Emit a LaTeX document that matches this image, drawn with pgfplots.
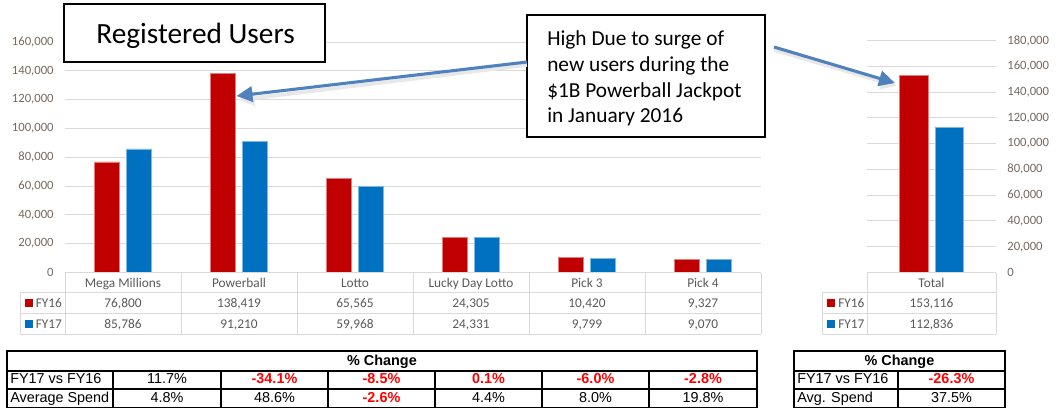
\documentclass[border=0pt]{standalone}
\usepackage{pgfplots}
\pgfplotsset{compat=1.18}
\usepackage{fontspec}
\setmainfont{Carlito}
\newfontfamily\arialf{Liberation Sans}
\usetikzlibrary{arrows.meta}
\definecolor{cred}{HTML}{C00000}
\definecolor{cblue}{HTML}{0070C0}
\definecolor{gridgray}{HTML}{D9D9D9}
\definecolor{txtgray}{HTML}{595959}
\definecolor{tickc}{RGB}{120,105,95}
\definecolor{arrowc}{RGB}{79,129,189}
\definecolor{pred}{HTML}{FF0000}
\begin{document}
\begin{tikzpicture}
\path[use as bounding box] (0,0) rectangle (792.75pt,-306pt);
% ---------- left chart ----------
\begin{axis}[at={(48.75pt,-204.375pt)}, anchor=south west, scale only axis,
  width=522pt, height=172.875pt, xmin=-0.5, xmax=5.5, ymin=0, ymax=160000,
  ytick={0,20000,...,160000}, xtick=\empty, ymajorgrids,
  grid style={gridgray, line width=0.75pt}, axis line style={draw=none},
  major tick length=0pt, scaled y ticks=false,
  yticklabel style={font=\fontsize{9.5}{11}\selectfont, text=tickc,
    /pgf/number format/fixed, /pgf/number format/1000 sep={,},
    /pgf/number format/assume math mode=true, xshift=-5pt},
  ybar, bar width=18.75pt, clip=false]
\addplot[fill=cred, draw=cred!50!white, line width=0.4pt, bar shift=-12pt] coordinates {(0,76800) (1,138419) (2,65565) (3,24305) (4,10420) (5,9327)};
\addplot[fill=cblue, draw=cblue!50!white, line width=0.4pt, bar shift=12pt] coordinates {(0,85786) (1,91210) (2,59968) (3,24331) (4,9799) (5,9070)};
\end{axis}
% ---------- right chart ----------
\begin{axis}[at={(650.25pt,-204.375pt)}, anchor=south west, scale only axis,
  width=96.75pt, height=174pt, xmin=-0.5, xmax=0.5, ymin=0, ymax=180000,
  ytick={0,20000,...,180000}, xtick=\empty, ymajorgrids, yticklabel pos=right,
  grid style={gridgray, line width=0.75pt}, axis line style={draw=none},
  major tick length=0pt, scaled y ticks=false,
  yticklabel style={font=\fontsize{9.5}{11}\selectfont, text=tickc,
    /pgf/number format/fixed, /pgf/number format/1000 sep={,},
    /pgf/number format/assume math mode=true, xshift=5pt},
  ybar, bar width=21.4pt, clip=false]
\addplot[fill=cred, draw=cred!50!white, line width=0.4pt, bar shift=-13.3pt] coordinates {(0,153116)};
\addplot[fill=cblue, draw=cblue!50!white, line width=0.4pt, bar shift=13.3pt] coordinates {(0,112836)};
\end{axis}
\begin{scope}[x=0.75pt,y=-0.75pt]
% ---------- data tables under the charts ----------
\begin{scope}[gridgray, line width=0.75pt]
\draw (65,272.5) -- (761,272.5);
\foreach \yy in {292.5,313.5,334} \draw (20,\yy) -- (761,\yy);
\draw (20,292.5) -- (20,334);
\foreach \xx in {65,181,297,413,529,645,761} \draw (\xx,272.5) -- (\xx,334);
\draw (867,272.5) -- (996,272.5);
\foreach \yy in {292.5,313.5,334} \draw (822,\yy) -- (996,\yy);
\draw (822,292.5) -- (822,334);
\foreach \xx in {867,996} \draw (\xx,272.5) -- (\xx,334);
\end{scope}
\begin{scope}[every node/.style={font=\fontsize{10}{12}\selectfont, text=txtgray, inner sep=0pt, anchor=base}]
\foreach \lab [count=\i from 0] in {Mega Millions,Powerball,Lotto,Lucky Day Lotto,Pick 3,Pick 4}
  \node at (123+116*\i,287) {\lab};
\foreach \v [count=\i from 0] in {{76,800},{138,419},{65,565},{24,305},{10,420},{9,327}}
  \node at (123+116*\i,307.5) {\v};
\foreach \v [count=\i from 0] in {{85,786},{91,210},{59,968},{24,331},{9,799},{9,070}}
  \node at (123+116*\i,328.5) {\v};
\node[anchor=base west] at (35.5,307.5) {FY16};
\node[anchor=base west] at (35.5,328.5) {FY17};
\node at (931.5,287.5) {Total};
\node at (931.5,307.5) {153,116};
\node at (931.5,328.5) {112,836};
\node[anchor=base west] at (838,307.5) {FY16};
\node[anchor=base west] at (838,328.5) {FY17};
\end{scope}
\fill[cred] (25,299) rectangle (33,307);
\fill[cblue] (25,320) rectangle (33,328);
\fill[cred] (827,299) rectangle (835,307);
\fill[cblue] (827,320) rectangle (835,328);
% ---------- bottom tables ----------
\begin{scope}[black, line width=0.9pt]
\draw[line width=1.2pt] (7,351) rectangle (757,407.5);
\draw (7,371) -- (757,371);
\draw (7,389) -- (757,389);
\foreach \xx in {113,221,328,435,542,649} \draw (\xx,371) -- (\xx,407.5);
\draw[line width=1.2pt] (794,351) rectangle (1005,407.5);
\draw (794,371) -- (1005,371);
\draw (794,389) -- (1005,389);
\draw (898,371) -- (898,407.5);
\end{scope}
\begin{scope}[every node/.style={font=\arialf\fontsize{10.8}{12}\selectfont, text=black, inner sep=0pt, anchor=base},
  neg/.style={text=pred, font=\arialf\bfseries\fontsize{10.8}{12}\selectfont}]
\node[font=\arialf\bfseries\fontsize{10.8}{12}\selectfont] at (382,365.5) {\% Change};
\node[anchor=base west] at (10,383.5) {FY17 vs FY16};
\node[anchor=base west] at (10,402) {Average Spend};
\node at (167,383.5) {11.7\%};
\node[neg] at (274.5,383.5) {-34.1\%};
\node[neg] at (381.5,383.5) {-8.5\%};
\node[neg] at (488.5,383.5) {0.1\%};
\node[neg] at (595.5,383.5) {-6.0\%};
\node[neg] at (703,383.5) {-2.8\%};
\node at (167,402) {4.8\%};
\node at (274.5,402) {48.6\%};
\node[neg] at (381.5,402) {-2.6\%};
\node at (488.5,402) {4.4\%};
\node at (595.5,402) {8.0\%};
\node at (703,402) {19.8\%};
\node[font=\arialf\bfseries\fontsize{10.8}{12}\selectfont] at (899.5,365.5) {\% Change};
\node[anchor=base west] at (797,383.5) {FY17 vs FY16};
\node[anchor=base west] at (797,402) {Avg. Spend};
\node[neg] at (951.5,383.5) {-26.3\%};
\node at (951.5,402) {37.5\%};
\end{scope}
% ---------- annotations ----------
\draw[black, line width=1.1pt, fill=white] (64,4) rectangle (325,62);
\node[anchor=base, inner sep=0pt, font=\fontsize{22}{26}\selectfont] at (195.5,43) {Registered Users};
\draw[black, line width=1.1pt, fill=white] (527,15) rectangle (765,137);
\begin{scope}[every node/.style={anchor=base west, inner sep=0pt, font=\fontsize{16}{19}\selectfont}]
\node at (547,45) {High Due to surge of};
\node at (547,71) {new users during the};
\node at (547,97) {\$1B Powerball Jackpot};
\node at (547,122) {in January 2016};
\end{scope}
\draw[black!9, line width=2.8pt, -{Triangle[length=12pt,width=11.5pt]}] (527,65) -- (238.5,100);
\draw[black!9, line width=2.8pt, -{Triangle[length=12pt,width=11.5pt]}] (774,50) -- (897,86);
\draw[arrowc, line width=2.3pt, -{Triangle[length=12pt,width=11.5pt]}] (527,62) -- (236.5,96);
\draw[arrowc, line width=2.3pt, -{Triangle[length=12pt,width=11.5pt]}] (774,47) -- (895,83);
\end{scope}
\end{tikzpicture}
\end{document}
